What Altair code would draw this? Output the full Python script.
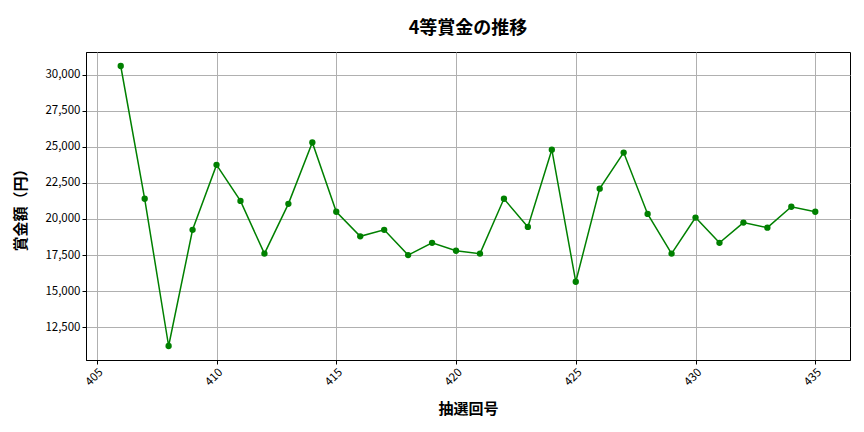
import altair as alt
import pandas as pd

draws = list(range(406, 436))
prizes = [30600, 21400, 11200, 19250, 23750, 21250, 17600, 21050, 25300, 20500,
          18800, 19250, 17500, 18350, 17800, 17600, 21400, 19450, 24800, 15650,
          22100, 24600, 20350, 17600, 20100, 18350, 19750, 19400, 20850, 20500]

df = pd.DataFrame({"draw": draws, "prize": prizes})
FONT = "Noto Sans CJK JP"

x = alt.X("draw:Q", title="抽選回号",
          scale=alt.Scale(domain=[404.55, 436.45], nice=False, zero=False),
          axis=alt.Axis(values=[405, 410, 415, 420, 425, 430, 435], labelAngle=-45,
                        labelAlign="right", labelBaseline="top", format="d",
                        titleFontSize=15, titleFontWeight="bold", titlePadding=14,
                        labelFontSize=11.5, labelColor="black", titleColor="black",
                        tickColor="black", domainColor="black", gridColor="#b0b0b0",
                        labelFont=FONT, titleFont=FONT, tickSize=4))
y = alt.Y("prize:Q", title="賞金額（円）",
          scale=alt.Scale(domain=[10230, 31570], nice=False, zero=False),
          axis=alt.Axis(values=[12500, 15000, 17500, 20000, 22500, 25000, 27500, 30000],
                        format=",.0f", titleFontSize=15, titleFontWeight="bold",
                        titlePadding=16, labelFontSize=11.5, labelColor="black",
                        titleColor="black", tickColor="black", domainColor="black",
                        gridColor="#b0b0b0", labelFont=FONT, titleFont=FONT, tickSize=4))

line = alt.Chart(df).mark_line(color="green", strokeWidth=1.5).encode(x=x, y=y)
pts = alt.Chart(df).mark_point(color="green", filled=True, size=40, opacity=1).encode(x=x, y=y)

chart = (line + pts).properties(
    width=764, height=308,
    title=alt.TitleParams("4等賞金の推移", fontSize=18, fontWeight="bold", font=FONT,
                          anchor="middle", offset=14, color="black"),
    autosize=alt.AutoSizeParams(type="none"),
    padding={"left": 78, "top": 44, "right": 6, "bottom": 64},
).configure_view(stroke="black", strokeWidth=1)

chart.save("out.html", embed_options={"renderer": "svg", "actions": False})
